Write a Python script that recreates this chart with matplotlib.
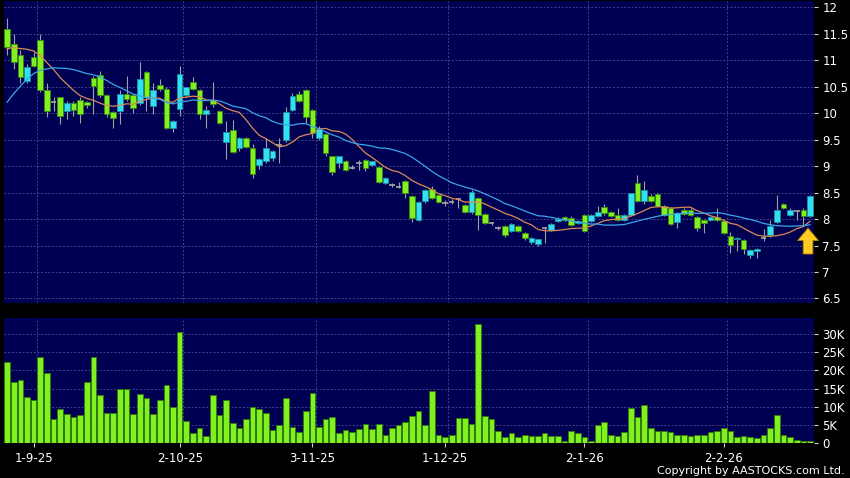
import numpy as np
import pandas as pd
import matplotlib
matplotlib.use('Agg')
import matplotlib.pyplot as plt

# daily candles (HKD)
opens = [11.60, 11.31, 11.10, 10.61, 11.07, 11.38, 10.43, 10.22, 10.30, 10.05,
         10.19, 10.25, 10.21, 10.66, 10.73, 10.35, 10.03, 10.05, 10.36, 10.34,
         10.20, 10.78, 10.14, 10.54, 10.46, 9.72, 10.08, 10.35, 10.59, 10.44,
         9.98, 10.25, 10.05, 9.45, 9.68, 9.34, 9.54, 9.35, 9.03, 9.09,
         9.15, 9.40, 9.49, 10.06, 10.36, 10.44, 10.06, 9.54, 9.60, 9.19,
         9.06, 9.10, 8.97, 9.05, 9.11, 9.02, 8.98, 8.69, 8.64, 8.61,
         8.71, 8.44, 7.99, 8.34, 8.56, 8.46, 8.30, 8.32, 8.37, 8.27,
         8.13, 8.40, 8.10, 7.92, 7.84, 7.86, 7.78, 7.86, 7.73, 7.56,
         7.52, 7.83, 7.80, 7.96, 8.03, 8.02, 7.93, 8.08, 7.96, 8.05,
         8.23, 8.13, 8.08, 7.98, 8.08, 8.68, 8.35, 8.43, 8.48, 8.24,
         8.21, 7.94, 8.18, 8.18, 8.04, 7.98, 7.98, 8.04, 7.97, 7.68,
         7.62, 7.61, 7.32, 7.39, 7.65, 7.69, 7.95, 8.29, 8.08, 8.16,
         8.18, 8.05]
highs = [11.79, 11.50, 11.20, 10.93, 11.15, 11.50, 10.58, 10.30, 10.30, 10.24,
         10.24, 10.30, 10.24, 10.70, 10.80, 10.36, 10.05, 10.43, 10.71, 10.36,
         10.96, 10.80, 10.58, 10.65, 10.50, 9.88, 10.90, 10.50, 10.68, 10.46,
         10.14, 10.59, 10.07, 9.86, 9.87, 9.55, 9.56, 9.41, 9.15, 9.54,
         9.30, 9.54, 10.11, 10.38, 10.42, 10.45, 10.08, 9.75, 9.62, 9.20,
         9.20, 9.12, 9.02, 9.12, 9.13, 9.10, 9.00, 8.80, 8.68, 8.70,
         8.73, 8.46, 8.34, 8.56, 8.62, 8.48, 8.36, 8.38, 8.40, 8.29,
         8.55, 8.42, 8.12, 7.95, 7.87, 7.88, 7.93, 7.88, 7.75, 7.66,
         7.63, 7.85, 7.92, 8.04, 8.05, 8.05, 7.99, 8.10, 8.10, 8.25,
         8.28, 8.16, 8.20, 8.10, 8.50, 8.84, 8.71, 8.48, 8.50, 8.26,
         8.23, 8.13, 8.20, 8.20, 8.06, 8.00, 8.06, 8.20, 7.99, 7.76,
         7.67, 7.63, 7.44, 7.46, 7.81, 7.98, 8.46, 8.31, 8.20, 8.18,
         8.20, 8.45]
lows = [11.10, 10.84, 10.58, 10.57, 10.87, 10.40, 9.92, 10.05, 9.80, 9.89,
        9.95, 9.81, 10.10, 9.98, 10.30, 9.93, 9.73, 9.79, 10.24, 10.00,
        10.15, 10.05, 9.99, 10.42, 9.70, 9.65, 9.95, 10.30, 10.44, 9.90,
        9.73, 10.11, 9.80, 9.13, 9.25, 9.29, 9.35, 8.77, 8.94, 9.05,
        9.10, 9.05, 9.45, 10.04, 10.22, 9.82, 9.54, 9.50, 9.20, 8.84,
        8.97, 8.90, 8.94, 8.92, 8.90, 9.00, 8.68, 8.66, 8.60, 8.58,
        8.40, 7.95, 7.97, 8.30, 8.37, 8.30, 8.24, 8.28, 8.20, 8.11,
        8.10, 7.80, 7.90, 7.88, 7.80, 7.66, 7.75, 7.76, 7.60, 7.52,
        7.50, 7.55, 7.78, 7.94, 7.97, 7.86, 7.91, 7.76, 7.94, 8.03,
        8.08, 8.04, 7.97, 7.96, 8.06, 8.33, 8.28, 8.33, 8.22, 8.05,
        7.88, 7.83, 8.08, 8.05, 7.77, 7.73, 7.96, 7.96, 7.71, 7.36,
        7.40, 7.34, 7.27, 7.27, 7.59, 7.67, 7.93, 8.19, 8.05, 7.99,
        7.89, 8.03]
closes = [11.25, 10.97, 10.69, 10.87, 10.89, 10.43, 10.05, 10.22, 9.95, 10.19,
          10.06, 9.98, 10.15, 10.52, 10.35, 9.99, 9.91, 10.36, 10.27, 10.10,
          10.65, 10.30, 10.43, 10.46, 9.73, 9.86, 10.74, 10.49, 10.46, 9.98,
          10.06, 10.17, 9.81, 9.64, 9.27, 9.53, 9.37, 8.86, 9.13, 9.35,
          9.29, 9.40, 10.02, 10.33, 10.24, 9.93, 9.62, 9.70, 9.25, 8.88,
          9.19, 8.92, 8.97, 9.05, 8.97, 9.09, 8.70, 8.77, 8.64, 8.61,
          8.49, 8.02, 8.32, 8.54, 8.39, 8.32, 8.30, 8.32, 8.37, 8.13,
          8.51, 8.07, 7.92, 7.92, 7.84, 7.69, 7.90, 7.78, 7.65, 7.65,
          7.62, 7.83, 7.90, 8.01, 7.99, 7.88, 7.97, 7.78, 8.08, 8.13,
          8.11, 8.06, 7.99, 8.08, 8.49, 8.35, 8.54, 8.35, 8.24, 8.08,
          7.90, 8.11, 8.10, 8.07, 7.83, 7.92, 8.04, 7.98, 7.73, 7.51,
          7.65, 7.44, 7.42, 7.44, 7.65, 7.87, 8.18, 8.21, 8.17, 8.16,
          8.05, 8.43]
# closes before the window, needed for the moving averages at the left edge
close_before = [7.7, 7.9, 8.2, 8.8, 9.2, 9.5, 9.8, 10.1, 10.3, 10.5,
                10.7, 10.9, 11.0, 11.2, 11.3, 11.4, 11.5, 11.5, 11.4]

# volume in thousands of shares
volume = [22.3, 16.9, 17.4, 12.8, 11.9, 23.6, 19.3, 6.6, 9.4, 8.0,
          7.1, 7.7, 16.8, 23.6, 13.2, 8.4, 8.3, 14.9, 14.9, 8.1,
          13.6, 12.4, 8.1, 11.9, 16.0, 10.0, 30.6, 6.0, 2.7, 4.2,
          2.0, 13.2, 7.8, 11.9, 5.5, 4.3, 6.6, 10.0, 9.5, 8.3,
          3.6, 5.0, 12.3, 4.5, 3.1, 8.9, 13.9, 4.4, 6.6, 7.3,
          2.9, 3.6, 3.2, 3.9, 5.4, 4.0, 5.4, 2.2, 4.3, 4.9,
          5.9, 7.4, 8.9, 5.1, 14.4, 2.2, 1.8, 2.3, 6.9, 6.9,
          5.2, 32.8, 7.6, 6.6, 3.5, 1.8, 2.7, 1.7, 2.3, 2.1,
          1.9, 2.7, 1.9, 1.9, 0.6, 3.3, 2.8, 1.8, 0.7, 5.0,
          5.8, 2.4, 1.9, 3.1, 9.8, 7.3, 10.4, 4.1, 3.3, 3.4,
          3.0, 2.3, 2.2, 1.9, 2.4, 2.3, 3.1, 3.4, 4.1, 3.4,
          1.6, 2.1, 1.7, 1.5, 2.2, 4.1, 7.7, 2.2, 1.7, 0.8,
          0.6, 0.6]

date_labels = ['1-9-25', '2-10-25', '3-11-25', '1-12-25', '2-1-26', '2-2-26']
date_idx = [4, 26, 46, 66, 87, 108]
price_ticks = [6.5, 7, 7.5, 8, 8.5, 9, 9.5, 10, 10.5, 11, 11.5, 12]
vol_ticks = [0, 5, 10, 15, 20, 25, 30]

BG = '#000052'
GRID = '#4e4e96'
GREEN = '#80f020'
CYAN = '#33e0f0'
DASH = (0, (2.2, 2.2))

x = np.arange(len(closes))
allc = pd.Series(close_before + closes)
ma10 = allc.rolling(10).mean().values[len(close_before):]
ma20 = allc.rolling(20).mean().values[len(close_before):]

fig = plt.figure(figsize=(8.5, 4.78), dpi=100, facecolor='black')
ax1 = fig.add_axes([4/850, (478-302.7)/478, 810/850, 301.7/478], facecolor=BG)
ax2 = fig.add_axes([4/850, (478-443.3)/478, 810/850, 125/478], facecolor=BG)

for ax in (ax1, ax2):
    ax.set_xlim(-0.47, 121.6)
    for s in ax.spines.values():
        s.set_visible(False)
    for k in date_idx:
        ax.axvline(k + 0.5, color=GRID, lw=0.6, ls=DASH, zorder=0)
    ax.yaxis.tick_right()
    ax.tick_params(axis='y', colors='#d0d0d0', labelcolor='white', length=3,
                   width=0.8, pad=3, labelsize=8.5)

# price panel
ax1.set_ylim(6.42, 12.12)
for p in price_ticks:
    ax1.axhline(p, color=GRID, lw=0.6, ls=DASH, zorder=0)
ax1.set_yticks(price_ticks)
ax1.set_yticklabels(['%g' % p for p in price_ticks])
ax1.set_xticks([])

ax1.vlines(x, lows, highs, color='#a0a0a0', lw=0.8, zorder=2)
o = np.array(opens)
c = np.array(closes)
up = c > o + 0.005
down = c < o - 0.005
flat = ~(up | down)
ax1.bar(x[up], (c - o)[up], bottom=o[up], width=0.85, color=CYAN,
        edgecolor='#1a8fa0', lw=0.6, zorder=3)
ax1.bar(x[down], (o - c)[down], bottom=c[down], width=0.85, color=GREEN,
        edgecolor='#3a8a10', lw=0.6, zorder=3)
ax1.hlines(c[flat], x[flat] - 0.42, x[flat] + 0.42, color='#a8a8a8', lw=1.2, zorder=3)

ax1.plot(x, ma10, color='#d98a55', lw=0.9, zorder=4)
ax1.plot(x, ma20, color='#3aa6e8', lw=0.9, zorder=4)

ax1.annotate('', xy=(120.7, 7.83), xytext=(120.7, 7.34),
             arrowprops=dict(arrowstyle='simple,head_length=0.9,head_width=1.5,tail_width=0.7',
                             fc='#ffcc22', ec='#b08000', lw=0.6, mutation_scale=10,
                             shrinkA=0, shrinkB=0),
             zorder=5)

# volume panel
ax2.set_ylim(0, 34.3)
for v in vol_ticks[1:]:
    ax2.axhline(v, color=GRID, lw=0.6, ls=DASH, zorder=0)
ax2.bar(x, volume, width=0.85, color=GREEN, edgecolor='#2f7a08', lw=0.6, zorder=3)
ax2.set_yticks(vol_ticks)
ax2.set_yticklabels(['0'] + ['%dK' % v for v in vol_ticks[1:]])
ax2.set_xticks(date_idx)
ax2.set_xticklabels(date_labels)
ax2.tick_params(axis='x', colors='#d0d0d0', labelcolor='white', length=3,
                width=0.8, pad=3, labelsize=8.5)

fig.text(845/850, 1 - 471/478, 'Copyright by AASTOCKS.com Ltd.', color='white',
         fontsize=8, ha='right', va='center')

fig.savefig('out.png', dpi=100, facecolor='black')
